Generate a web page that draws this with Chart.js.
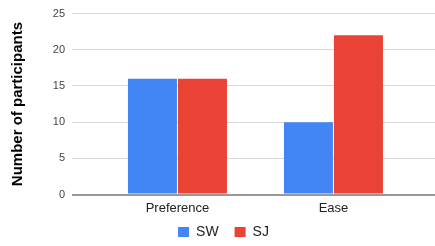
<!DOCTYPE html>
<html>
<head>
<meta charset="utf-8">
<script src="https://cdn.jsdelivr.net/npm/chart.js@4/dist/chart.umd.min.js"></script>
<style>
html,body{margin:0;padding:0;background:#fff;}
#wrap{width:435px;height:246px;position:relative;}
</style>
</head>
<body>
<div id="wrap"><canvas id="c" width="435" height="246"></canvas></div>
<script>
const categories = ['Preference', 'Ease'];
const swValues = [16, 10];
const sjValues = [16, 22];
const yTicks = [0, 5, 10, 15, 20, 25];
const seriesNames = ['SW', 'SJ'];

const font = "'Liberation Sans', Arial, sans-serif";
const toPoints = arr => arr.map((v, i) => ({x: i, y: v}));

const legendPlacePlugin = {
  id: 'legendPlace',
  beforeUpdate(chart) {
    const lg = chart.legend;
    if (lg && !lg._patched) {
      const f = lg.fit.bind(lg);
      lg.fit = function () { f(); this.height = 27.5; };
      lg._patched = true;
    }
  },
  afterLayout(chart) {
    const lg = chart.legend;
    if (lg) { lg.top -= 9; lg.bottom -= 9; lg.left += 6; lg.right += 6; }
  }
};

new Chart(document.getElementById('c'), {
  type: 'bar',
  data: {
    datasets: [
      {label: seriesNames[0], data: toPoints(swValues), backgroundColor: '#4285F4',
       categoryPercentage: 0.641, barPercentage: 0.98},
      {label: seriesNames[1], data: toPoints(sjValues), backgroundColor: '#EA4335',
       categoryPercentage: 0.641, barPercentage: 0.98}
    ]
  },
  plugins: [legendPlacePlugin],
  options: {
    responsive: false,
    animation: false,
    layout: {padding: {top: 3, right: 0, left: 0, bottom: 0}},
    plugins: {
      legend: {
        position: 'bottom',
        labels: {
          boxWidth: 11, boxHeight: 11, padding: 16,
          color: '#222', font: {family: font, size: 14}
        }
      },
      tooltip: {enabled: false}
    },
    scales: {
      x: {
        type: 'linear',
        offset: false,
        min: -0.676, max: 1.651,
        grid: {display: false, drawTicks: false},
        border: {display: false},
        afterBuildTicks: s => { s.ticks = categories.map((c, i) => ({value: i})); },
        afterFit: s => { s.height = 24; },
        ticks: {
          callback: v => categories[v],
          color: '#222', font: {family: font, size: 13}, padding: 6,
          maxRotation: 0, autoSkip: false
        }
      },
      y: {
        min: 0, max: 25,
        afterBuildTicks: s => { s.ticks = yTicks.map(v => ({value: v})); },
        afterFit: s => { s.width = 72; },
        border: {display: false},
        grid: {
          color: c => c.tick && c.tick.value === 0 ? '#999' : '#d9d9d9',
          lineWidth: c => c.tick && c.tick.value === 0 ? 2 : 1,
          drawTicks: false
        },
        ticks: {color: '#444', font: {family: font, size: 11}, padding: 7},
        title: {
          display: true, text: 'Number of participants',
          color: '#000', font: {family: font, size: 15, weight: 'bold'}, padding: {top: 9, bottom: 0}
        }
      }
    }
  }
});
</script>
</body>
</html>
